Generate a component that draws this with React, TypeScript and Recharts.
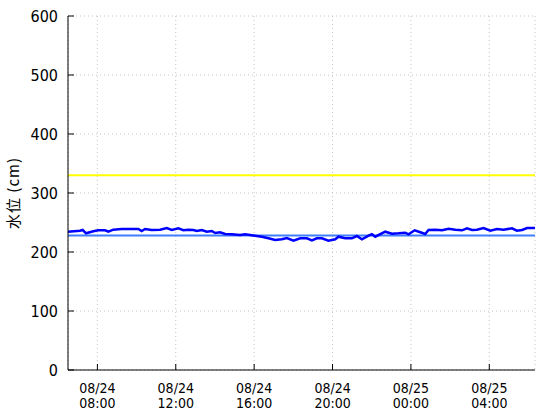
import React from "react";
import { LineChart, Line, XAxis, YAxis, CartesianGrid, ReferenceLine } from "recharts";

// time in hours from 08/24 00:00
const hours = [
  6.5, 7.11, 7.25, 7.42, 7.79, 8.05, 8.39, 8.56, 8.81, 9.24,
  10.09, 10.26, 10.43, 10.77, 11.2, 11.54, 11.8, 12.13, 12.39, 12.64,
  12.9, 13.07, 13.33, 13.58, 13.84, 14.01, 14.26, 14.52, 14.86, 15.28,
  15.54, 16.05, 16.39, 16.73, 17.07, 17.41, 17.67, 18.01, 18.35, 18.69,
  18.95, 19.2, 19.46, 19.79, 20.14, 20.3, 20.65, 20.99, 21.24, 21.5,
  21.84, 22.01, 22.18, 22.69, 23.03, 23.37, 23.71, 23.88, 24.19, 24.48,
  24.73, 24.9, 25.24, 25.59, 25.92, 26.27, 26.61, 26.86, 27.12, 27.37,
  27.71, 28.05, 28.39, 28.73, 29.16, 29.41, 29.67, 29.93, 30.27, 30.33,
];
const levels = [
  234.4, 236.1, 237.3, 231.7, 235.1, 236.8, 236.8, 234.4, 237.8, 239.0,
  239.0, 235.6, 239.0, 237.3, 237.8, 240.7, 237.3, 240.2, 236.8, 237.8,
  237.3, 235.6, 237.3, 234.4, 235.6, 232.2, 233.4, 230.5, 230.0, 228.8,
  230.0, 227.6, 225.9, 223.2, 220.3, 221.5, 223.7, 219.2, 223.2, 223.2,
  219.8, 223.2, 223.2, 219.2, 221.5, 225.9, 223.2, 223.2, 227.1, 221.5,
  227.6, 230.0, 225.9, 234.4, 231.0, 231.7, 232.7, 230.0, 236.8, 233.4,
  230.5, 237.3, 237.8, 236.8, 239.5, 237.8, 236.8, 240.2, 237.3, 237.8,
  240.7, 236.1, 239.0, 237.8, 240.2, 236.1, 237.3, 240.7, 240.7, 240.5,
];
const warningLevel = 330;
const normalLevel = 228;

const xTicks = [8, 12, 16, 20, 24, 28];
const tickDates = ["08/24", "08/24", "08/24", "08/24", "08/25", "08/25"];
const tickTimes = ["08:00", "12:00", "16:00", "20:00", "00:00", "04:00"];
const yTicks = [0, 100, 200, 300, 400, 500, 600];
const xDomain = [6.5, 30.333];

const data = hours.map((h, i) => ({ h, v: levels[i] }));

const FONT = "'Liberation Sans Narrow', 'DejaVu Sans Condensed', sans-serif";
const TICK_LEN = 6;

const BottomTick = (props: any) => {
  const { x, y, index } = props;
  return (
    <g>
      <line x1={x} y1={y} x2={x} y2={y - TICK_LEN} stroke="#000" />
      <text x={x} y={y + 23} textAnchor="middle" fontFamily={FONT} fontSize={14} fill="#000">
        <tspan x={x}>{tickDates[index]}</tspan>
        <tspan x={x} dy={14.5}>{tickTimes[index]}</tspan>
      </text>
    </g>
  );
};

const TopTick = (props: any) => {
  const { x, y } = props;
  return <line x1={x} y1={y} x2={x} y2={y + TICK_LEN} stroke="#000" />;
};

const LeftTick = (props: any) => {
  const { x, y, payload } = props;
  return (
    <g>
      <line x1={x} y1={y} x2={x + TICK_LEN} y2={y} stroke="#000" />
      <text x={x - 10} y={y + 6} textAnchor="end" fontFamily={FONT} fontSize={16} fill="#000">
        {payload.value}
      </text>
    </g>
  );
};

const RightTick = (props: any) => {
  const { x, y } = props;
  return <line x1={x} y1={y} x2={x - TICK_LEN} y2={y} stroke="#000" />;
};

export default function App() {
  return (
    <div style={{ position: "absolute", left: 0, top: 0, width: 560, height: 420, background: "#fff" }}>
      <LineChart width={560} height={420} data={data} margin={{ top: 16, right: 25, bottom: 0, left: 0 }}>
        <CartesianGrid stroke="#c4c4c4" strokeDasharray="1 3" />
        <XAxis
          dataKey="h"
          type="number"
          domain={xDomain}
          ticks={xTicks}
          allowDataOverflow
          height={50}
          tickSize={0}
          tickMargin={0}
          tickLine={false}
          axisLine={{ stroke: "#000" }}
          tick={<BottomTick />}
          interval={0}
        />
        <XAxis
          xAxisId="top"
          orientation="top"
          dataKey="h"
          type="number"
          domain={xDomain}
          ticks={xTicks}
          allowDataOverflow
          height={0}
          tickSize={0}
          tickMargin={0}
          tickLine={false}
          axisLine={{ stroke: "#000" }}
          tick={<TopTick />}
          interval={0}
        />
        <YAxis
          type="number"
          domain={[0, 600]}
          ticks={yTicks}
          width={68}
          tickSize={0}
          tickMargin={0}
          tickLine={false}
          axisLine={{ stroke: "#000" }}
          tick={<LeftTick />}
          interval={0}
          label={{
            value: "水位 (cm)",
            angle: -90,
            position: "insideLeft",
            dx: 9,
            style: {
              textAnchor: "middle",
              fontFamily: "'Noto Sans CJK JP', sans-serif",
              fontSize: 15,
              letterSpacing: 1,
              fill: "#000",
            },
          }}
        />
        <YAxis
          yAxisId="right"
          orientation="right"
          type="number"
          domain={[0, 600]}
          ticks={yTicks}
          width={0}
          tickSize={0}
          tickMargin={0}
          tickLine={false}
          axisLine={{ stroke: "#000" }}
          tick={<RightTick />}
          interval={0}
        />
        <ReferenceLine y={warningLevel} stroke="#ffff00" strokeWidth={2} />
        <ReferenceLine y={normalLevel} stroke="#3f7fff" strokeWidth={2} />
        <Line
          dataKey="v"
          type="linear"
          stroke="#0000ff"
          strokeWidth={2.5}
          dot={false}
          isAnimationActive={false}
        />
      </LineChart>
    </div>
  );
}
